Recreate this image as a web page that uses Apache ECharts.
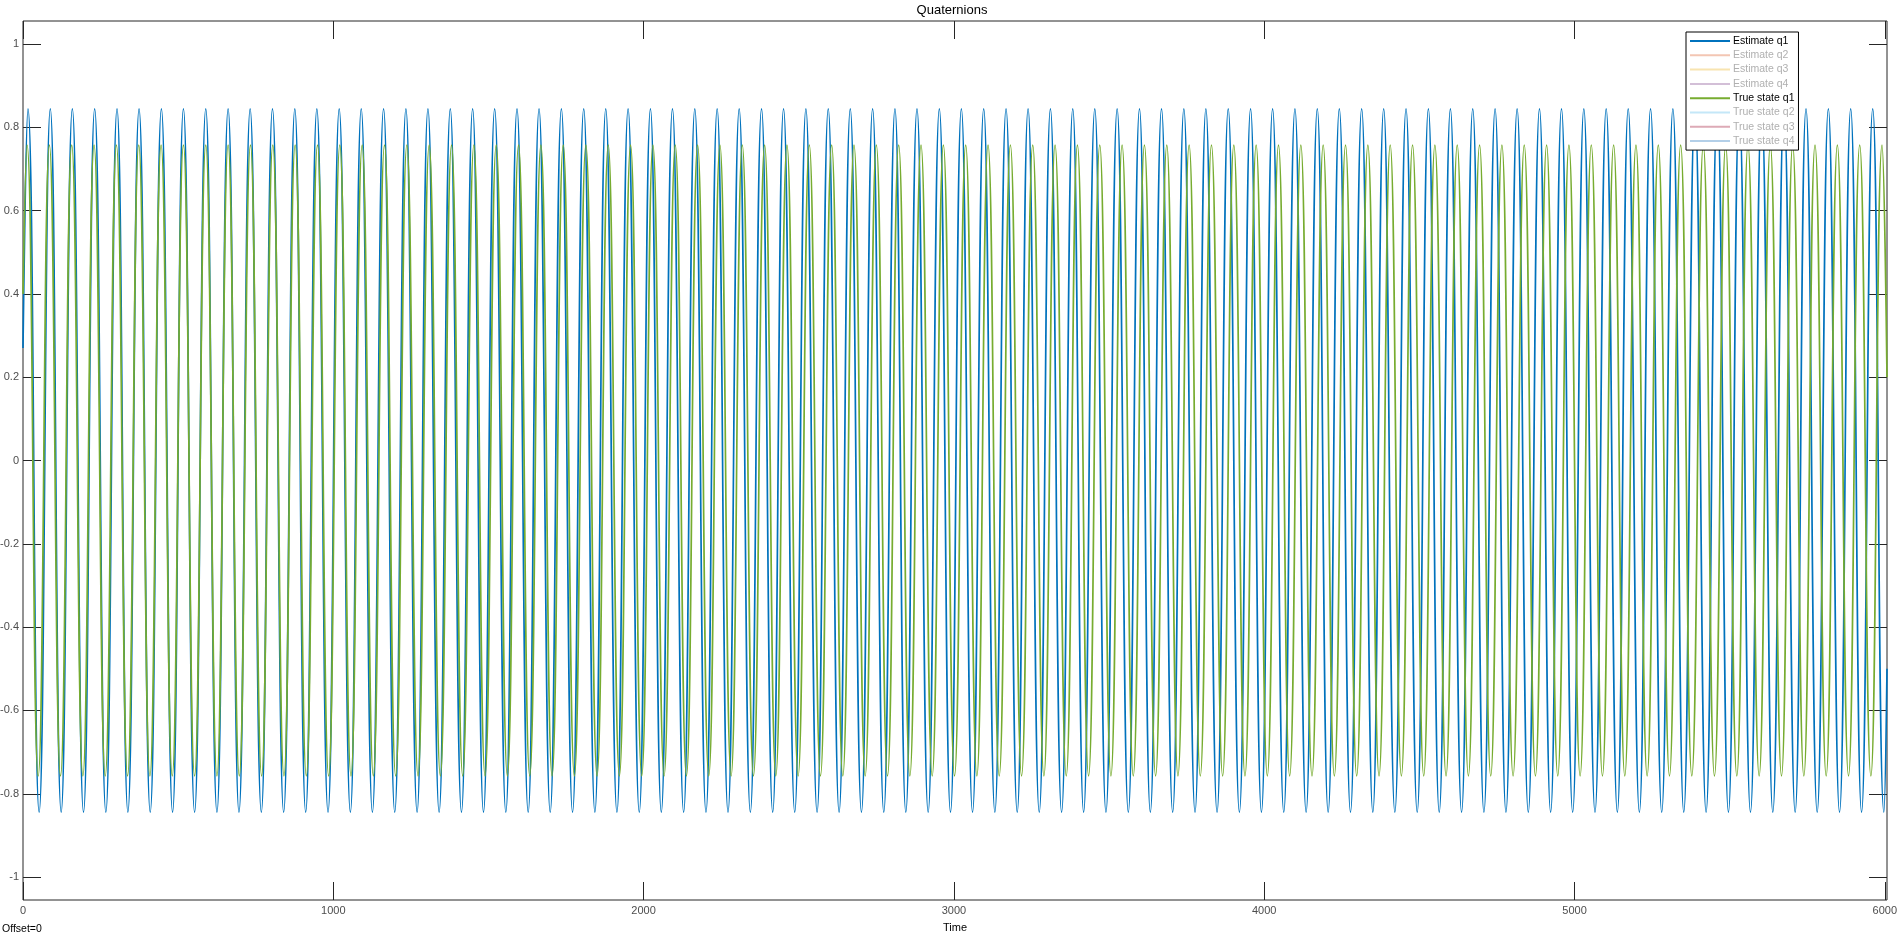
<!DOCTYPE html>
<html>
<head>
<meta charset="utf-8">
<script src="https://cdn.jsdelivr.net/npm/echarts@6/dist/echarts.min.js"></script>
<style>
html,body{margin:0;padding:0;background:#fff;}
#chart{width:1904px;height:940px;}
</style>
</head>
<body>
<div id="chart"></div>
<script>
// ---- Data (extrema of each trace, plus start/end points) ----
const xTicks = [0, 1000, 2000, 3000, 4000, 5000, 6000];
const yTicks = [-1, -0.8, -0.6, -0.4, -0.2, 0, 0.2, 0.4, 0.6, 0.8, 1];
const legendNames = ['Estimate q1','Estimate q2','Estimate q3','Estimate q4','True state q1','True state q2','True state q3','True state q4'];

const estQ1Time = [0,16,52,88,123,159,195,231,267,303,338,374,410,446,482,517,553,589,625,661,696,732,768,804,840,876,911,947,983,1019,1055,1090,1126,1162,1198,1234,1270,1305,1341,1377,1413,1449,1484,1520,1556,1592,1628,1663,1699,1735,1771,1807,1843,1878,1914,1950,1986,2022,2057,2093,2129,2165,2201,2237,2272,2308,2344,2380,2416,2451,2487,2523,2559,2595,2630,2666,2702,2738,2774,2810,2845,2881,2917,2953,2989,3024,3060,3096,3132,3168,3204,3239,3275,3311,3347,3383,3418,3454,3490,3526,3562,3598,3633,3669,3705,3741,3777,3812,3848,3884,3920,3956,3991,4027,4063,4099,4135,4171,4206,4242,4278,4314,4350,4385,4421,4457,4493,4529,4564,4600,4636,4672,4708,4744,4779,4815,4851,4887,4923,4958,4994,5030,5066,5102,5138,5173,5209,5245,5281,5317,5352,5388,5424,5460,5496,5531,5567,5603,5639,5675,5711,5746,5782,5818,5854,5890,5925,5961,5997,6007];
const estQ1Value = [0.27,
0.844,-0.844,0.844,-0.844,0.844,-0.844,0.844,-0.844,0.844,-0.844,0.844,-0.844,
0.844,-0.844,0.844,-0.844,0.844,-0.844,0.844,-0.844,0.844,-0.844,0.844,-0.844,
0.844,-0.844,0.844,-0.844,0.844,-0.844,0.844,-0.844,0.844,-0.844,0.844,-0.844,
0.844,-0.844,0.844,-0.844,0.844,-0.844,0.844,-0.844,0.844,-0.844,0.844,-0.844,
0.844,-0.844,0.844,-0.844,0.844,-0.844,0.844,-0.844,0.844,-0.844,0.844,-0.844,
0.844,-0.844,0.844,-0.844,0.844,-0.844,0.844,-0.844,0.844,-0.844,0.844,-0.844,
0.844,-0.844,0.844,-0.844,0.844,-0.844,0.844,-0.844,0.844,-0.844,0.844,-0.844,
0.844,-0.844,0.844,-0.844,0.844,-0.844,0.844,-0.844,0.844,-0.844,0.844,-0.844,
0.844,-0.844,0.844,-0.844,0.844,-0.844,0.844,-0.844,0.844,-0.844,0.844,-0.844,
0.844,-0.844,0.844,-0.844,0.844,-0.844,0.844,-0.844,0.844,-0.844,0.844,-0.844,
0.844,-0.844,0.844,-0.844,0.844,-0.844,0.844,-0.844,0.844,-0.844,0.844,-0.844,
0.844,-0.844,0.844,-0.844,0.844,-0.844,0.844,-0.844,0.844,-0.844,0.844,-0.844,
0.844,-0.844,0.844,-0.844,0.844,-0.844,0.844,-0.844,0.844,-0.844,0.844,-0.844,
0.844,-0.844,0.844,-0.844,0.844,-0.844,0.844,-0.844,0.844,-0.844,0.844,-0.844,
-0.5];

const trueQ1Time = [0,13,49,85,121,157,193,229,265,301,337,373,409,445,481,517,553,589,625,661,697,733,769,805,841,877,913,949,985,1021,1057,1093,1129,1165,1201,1237,1273,1309,1345,1381,1417,1453,1489,1525,1561,1597,1633,1669,1705,1741,1777,1814,1850,1886,1922,1958,1994,2030,2066,2102,2138,2174,2210,2246,2282,2318,2354,2390,2426,2462,2498,2534,2570,2606,2642,2678,2714,2750,2786,2822,2858,2894,2930,2966,3002,3038,3074,3110,3146,3182,3218,3254,3290,3326,3362,3398,3434,3470,3506,3542,3578,3614,3650,3686,3722,3758,3794,3830,3866,3902,3938,3974,4010,4046,4082,4118,4154,4190,4226,4262,4298,4334,4370,4406,4442,4478,4514,4550,4586,4622,4658,4694,4730,4766,4802,4838,4874,4910,4946,4982,5018,5054,5090,5126,5162,5198,5234,5270,5306,5342,5378,5415,5451,5487,5523,5559,5595,5631,5667,5703,5739,5775,5811,5847,5883,5919,5955,5991,6007];
const trueQ1Value = [0.40,
0.757,-0.757,0.757,-0.757,0.757,-0.757,0.757,-0.757,0.757,-0.757,0.757,-0.757,
0.757,-0.757,0.757,-0.757,0.757,-0.757,0.757,-0.757,0.757,-0.757,0.757,-0.757,
0.757,-0.757,0.757,-0.757,0.757,-0.757,0.757,-0.757,0.757,-0.757,0.757,-0.757,
0.757,-0.757,0.757,-0.757,0.757,-0.757,0.757,-0.757,0.757,-0.757,0.757,-0.757,
0.757,-0.757,0.757,-0.757,0.757,-0.757,0.757,-0.757,0.757,-0.757,0.757,-0.757,
0.757,-0.757,0.757,-0.757,0.757,-0.757,0.757,-0.757,0.757,-0.757,0.757,-0.757,
0.757,-0.757,0.757,-0.757,0.757,-0.757,0.757,-0.757,0.757,-0.757,0.757,-0.757,
0.757,-0.757,0.757,-0.757,0.757,-0.757,0.757,-0.757,0.757,-0.757,0.757,-0.757,
0.757,-0.757,0.757,-0.757,0.757,-0.757,0.757,-0.757,0.757,-0.757,0.757,-0.757,
0.757,-0.757,0.757,-0.757,0.757,-0.757,0.757,-0.757,0.757,-0.757,0.757,-0.757,
0.757,-0.757,0.757,-0.757,0.757,-0.757,0.757,-0.757,0.757,-0.757,0.757,-0.757,
0.757,-0.757,0.757,-0.757,0.757,-0.757,0.757,-0.757,0.757,-0.757,0.757,-0.757,
0.757,-0.757,0.757,-0.757,0.757,-0.757,0.757,-0.757,0.757,-0.757,0.757,-0.757,
0.757,-0.757,0.757,-0.757,0.757,-0.757,0.757,-0.757,0.757,-0.757,
0.757,
0.2];

// ---- Styling ----
const lineColors = ['#0072BD','#F3C6B3','#F8E4B0','#D3BFD7','#77AC30','#C4E7F8','#DDAAB6','#B3CFE8'];
const legendTextColors = ['#000','#b0b0b0','#b0b0b0','#b0b0b0','#000','#b0b0b0','#b0b0b0','#b0b0b0'];
const FONT = 'Liberation Sans, Arial, sans-serif';
const AXC = '#262626';

function zip(ts, vs){ return ts.map((t,i)=>[t, vs[i]]); }
const plainNum = v => String(v);

const chart = echarts.init(document.getElementById('chart'), null, {renderer:'canvas'});

const series = legendNames.map((n, i) => {
  let data = [];
  if (i === 0) data = zip(estQ1Time, estQ1Value);
  if (i === 4) data = zip(trueQ1Time, trueQ1Value);
  return {
    name: n, type: 'line', data: data, xAxisIndex: 0, yAxisIndex: 0,
    showSymbol: false, smooth: 0.5, color: lineColors[i],
    lineStyle: {width: 1.7, color: lineColors[i]},
    animation: false, silent: true, clip: true
  };
});

const xCommon = {type:'value', min:0, max:6007, splitLine:{show:false}, axisLine:{show:false, onZero:false}};
const yCommon = {type:'value', min:-1.055, max:1.055, splitLine:{show:false}, axisLine:{show:false, onZero:false}};

chart.setOption({
  backgroundColor: '#ffffff',
  animation: false,
  title: {text:'Quaternions', left:'center', top:0, padding:[4,5,2,5], textStyle:{fontFamily:FONT, fontSize:13, fontWeight:'normal', color:'#000'}},
  grid: {left:23, right:17, top:21, bottom:40, show:true, borderColor:AXC, borderWidth:1, backgroundColor:'#fff', containLabel:false, outerBoundsMode:'none'},
  legend: {
    show:true, orient:'vertical', left:1686, top:32,
    padding:[2,4,2,4], itemGap:0.3, itemWidth:40, itemHeight:2, icon:'rect',
    backgroundColor:'#fff', borderColor:'#000', borderWidth:1, borderRadius:0,
    selectedMode:false,
    textStyle:{fontFamily:FONT, fontSize:10.5, lineHeight:14, padding:[0,0,0,-2]},
    data: legendNames.map((n,i)=>({name:n, textStyle:{color:legendTextColors[i]}}))
  },
  xAxis: [
    Object.assign({}, xCommon, {position:'bottom', name:'Time', nameLocation:'middle', nameGap:22,
      nameTextStyle:{fontFamily:FONT, fontSize:11, color:'#000'},
      axisTick:{show:true, inside:true, length:18, customValues:xTicks, lineStyle:{color:AXC}},
      axisLabel:{show:true, customValues:xTicks, margin:5, formatter:plainNum, fontFamily:FONT, fontSize:11, color:'#4d4d4d'}}),
    Object.assign({}, xCommon, {position:'top',
      axisTick:{show:true, inside:true, length:18, customValues:xTicks, lineStyle:{color:AXC}},
      axisLabel:{show:false}})
  ],
  yAxis: [
    Object.assign({}, yCommon, {position:'left',
      axisTick:{show:true, inside:true, length:18, customValues:yTicks, lineStyle:{color:AXC}},
      axisLabel:{show:true, customValues:yTicks, margin:4, formatter:plainNum, fontFamily:FONT, fontSize:11, color:'#4d4d4d'}}),
    Object.assign({}, yCommon, {position:'right',
      axisTick:{show:true, inside:true, length:18, customValues:yTicks, lineStyle:{color:AXC}},
      axisLabel:{show:false}})
  ],
  graphic: [
    {type:'text', left:2, top:924, style:{text:'Offset=0', fontFamily:FONT, fontSize:10.5, fill:'#000'}}
  ],
  series: series
});
</script>
</body>
</html>
